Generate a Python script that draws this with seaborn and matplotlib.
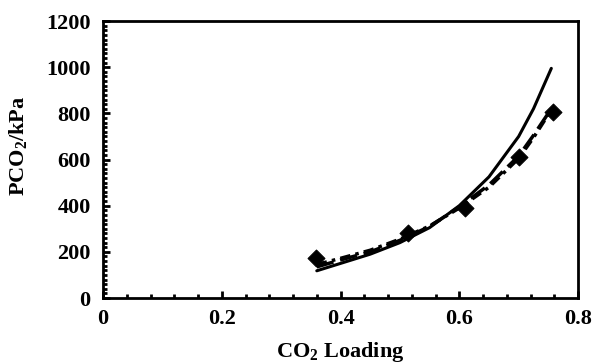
import numpy as np
import pandas as pd
import matplotlib.pyplot as plt
import seaborn as sns
from matplotlib.ticker import MultipleLocator, FuncFormatter

# experimental points
loading_exp = [0.358, 0.514, 0.61, 0.70, 0.758]
p_exp = [173, 281, 390, 610, 808]

# model curves
loading_model = [0.36, 0.40, 0.45, 0.50, 0.55, 0.60, 0.65, 0.70, 0.725, 0.755]
p_model_1 = [118, 150, 190, 240, 305, 400, 525, 700, 820, 995]
p_model_2 = [135, 165, 200, 250, 310, 395, 490, 615, 705, 820]
p_model_3 = [145, 172, 207, 255, 312, 390, 480, 605, 695, 815]

sns.set_theme(style='ticks')
plt.rcParams['font.family'] = ['Liberation Serif', 'DejaVu Serif']
plt.rcParams['font.weight'] = 'bold'
plt.rcParams['mathtext.fontset'] = 'custom'
plt.rcParams['mathtext.rm'] = 'Liberation Serif:bold'
plt.rcParams['mathtext.bf'] = 'Liberation Serif:bold'
plt.rcParams['mathtext.it'] = 'Liberation Serif:bold:italic'

fig = plt.figure(figsize=(5.99, 3.63), dpi=100)
ax = fig.add_axes([0.172, 0.179, 0.793, 0.763])

sns.lineplot(x=loading_model, y=p_model_1, ax=ax, color='black', lw=2.2,
             linestyle='-')
sns.lineplot(x=loading_model, y=p_model_2, ax=ax, color='black', lw=2.5,
             linestyle=(0, (5, 2)))
sns.lineplot(x=loading_model, y=p_model_3, ax=ax, color='black', lw=2.5,
             linestyle=(0, (3, 1.5, 1, 1.5)))
sns.scatterplot(x=loading_exp, y=p_exp, ax=ax, color='black', marker='D',
                s=75, edgecolor='black', zorder=5)

ax.set_xlim(0, 0.8)
ax.set_ylim(0, 1200)
ax.xaxis.set_major_locator(MultipleLocator(0.2))
ax.xaxis.set_minor_locator(MultipleLocator(0.04))
ax.yaxis.set_major_locator(MultipleLocator(200))
ax.yaxis.set_minor_locator(MultipleLocator(20))
ax.xaxis.set_major_formatter(FuncFormatter(lambda v, p: '0' if abs(v) < 1e-9 else f'{v:.1f}'))
ax.yaxis.set_major_formatter(FuncFormatter(lambda v, p: f'{v:.0f}'))
ax.tick_params(which='both', direction='in', top=False, right=False,
               color='black', labelsize=16, labelcolor='black')
ax.tick_params(axis='x', which='major', pad=8)
ax.tick_params(axis='y', which='major', pad=9)
ax.tick_params(which='major', length=5, width=2)
ax.tick_params(which='minor', length=3, width=2)
for lab in ax.get_xticklabels() + ax.get_yticklabels():
    lab.set_fontweight('bold')
for sp in ax.spines.values():
    sp.set_linewidth(2)
    sp.set_color('black')

ax.set_xlabel('CO$_{2}$ Loading', fontsize=16, fontweight='bold',
              color='black')
ax.set_ylabel('PCO$_{2}$/kPa', fontsize=16, fontweight='bold',
              color='black')
ax.xaxis.set_label_coords(0.5, -0.152)
ax.yaxis.set_label_coords(-0.155, 0.55)

fig.savefig('out.png', dpi=100)
